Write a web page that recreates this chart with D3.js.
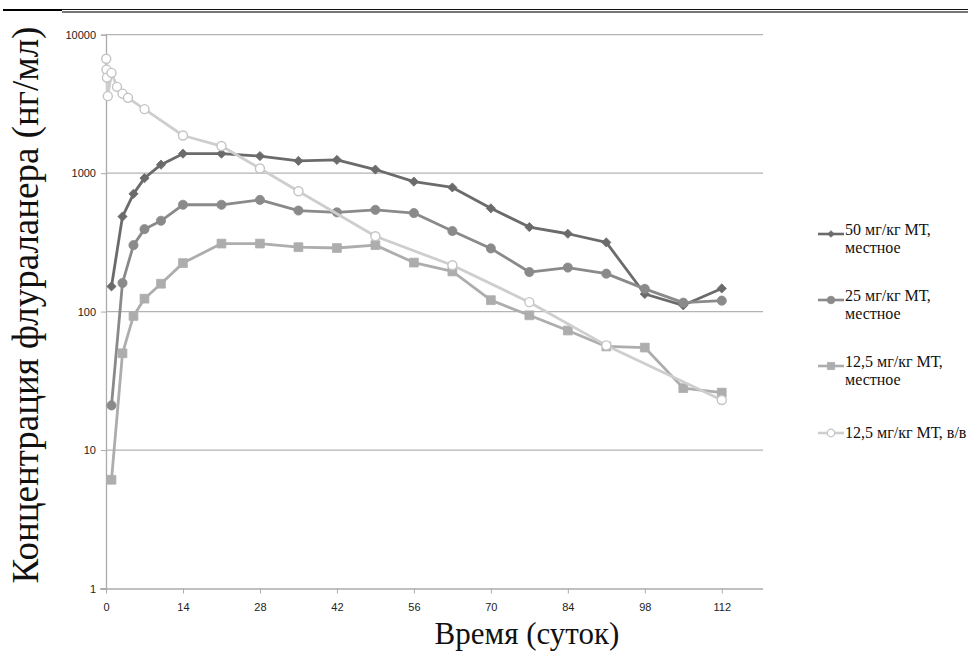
<!DOCTYPE html>
<html>
<head>
<meta charset="utf-8">
<script src="https://cdn.jsdelivr.net/npm/d3@7"></script>
<style>
	body { margin: 0; background: #fff; }
	svg { display: block; }
	.tick text { font-family: "Liberation Sans", Arial, sans-serif; font-size: 11px; fill: #222; }
	.title { font-family: "Liberation Serif", "Times New Roman", serif; fill: #111; }
	.legend text { font-family: "Liberation Serif", "Times New Roman", serif; font-size: 16px; fill: #111; }
</style>
</head>
<body>
<div id="chart"></div>
<script>
// days of sampling, topical groups
var days = [1, 3, 5, 7, 10, 14, 21, 28, 35, 42, 49, 56, 63, 70, 77, 84, 91, 98, 105, 112];

var conc50 = [152, 486, 709, 920, 1151, 1383, 1383, 1328, 1226, 1247, 1062, 868, 788, 557, 408, 365, 316, 134, 111, 147];
var conc25 = [21, 161, 302, 394, 453, 591, 591, 641, 537, 521, 543, 515, 382, 286, 193, 208, 188, 146, 116, 120];
var conc125 = [6.1, 50, 93, 124, 159, 224, 310, 310, 292, 288, 302, 226, 195, 121, 94, 73, 56, 55, 28, 26];

// intravenous group has its own sampling days
var ivDays = [0.04, 0.08, 0.17, 0.33, 1, 2, 3, 4, 7, 14, 21, 28, 35, 49, 63, 77, 91, 112];
var ivConc = [6700, 5600, 4900, 3600, 5300, 4200, 3750, 3500, 2900, 1870, 1570, 1080, 740, 350, 216, 117, 57, 23];

var seriesNames = [
	["50 мг/кг МТ,", "местное"],
	["25 мг/кг МТ,", "местное"],
	["12,5 мг/кг МТ,", "местное"],
	["12,5 мг/кг МТ, в/в"]
];

var xTicks = [0, 14, 28, 42, 56, 70, 84, 98, 112];
var yTicks = [1, 10, 100, 1000, 10000];

var xTitle = "Время (суток)";
var yTitle = "Концентрация флураланера (нг/мл)";

var W = 968, H = 652;

var svg = d3.select("#chart").append("svg").attr("width", W).attr("height", H);

// rules at the top of the page
svg.append("line").attr("x1", 3).attr("x2", 62).attr("y1", 10).attr("y2", 10)
   .style("stroke", "#000").style("stroke-width", 2.2);
svg.append("line").attr("x1", 62).attr("x2", W).attr("y1", 9.5).attr("y2", 9.5)
   .style("stroke", "#111").style("stroke-width", 1);
svg.append("line").attr("x1", 62).attr("x2", W).attr("y1", 12).attr("y2", 12)
   .style("stroke", "#777").style("stroke-width", 2);

var x = d3.scaleLinear().domain([0, 119.5]).range([106, 763]);
var y = d3.scaleLog().domain([1, 10000]).range([588.5, 34.7]);

// grid
svg.selectAll(".grid")
   .data(yTicks.slice(1))
   .enter().append("line")
   .attr("class", "grid")
   .attr("x1", x(0)).attr("x2", 763)
   .attr("y1", d => y(d)).attr("y2", d => y(d))
   .style("stroke", "#b3b3b3").style("stroke-width", 1.2);

var yaxis = svg.append("g")
			   .attr("transform", "translate(" + x(0) + ",0)")
			   .call(d3.axisLeft(y).tickValues(yTicks).tickFormat(d3.format("d")).tickSize(5).tickPadding(5));

var xaxis = svg.append("g")
			   .attr("transform", "translate(0," + y(1) + ")")
			   .call(d3.axisBottom(x).tickValues(xTicks).tickSize(5).tickPadding(10));

[yaxis, xaxis].forEach(function(a) {
	a.select(".domain").style("stroke", "#ababab").style("stroke-width", 1.3);
	a.selectAll(".tick line").style("stroke", "#ababab");
});
xaxis.select(".domain").attr("d", "M100,0.5H763");

// titles
svg.append("text")
   .attr("class", "title")
   .attr("x", 527).attr("y", 644)
   .attr("text-anchor", "middle")
   .style("font-size", "31px")
   .text(xTitle);

svg.append("text")
   .attr("class", "title")
   .attr("transform", "translate(38,305) rotate(-90)")
   .attr("text-anchor", "middle")
   .style("font-size", "37px")
   .text(yTitle);

// marker shapes
var diamond = "M0,-4.6L4.6,0L0,4.6L-4.6,0Z";
var square = "M-4.4,-4.4H4.4V4.4H-4.4Z";
var circle = d3.symbol().type(d3.symbolCircle).size(66)();
var openCircle = d3.symbol().type(d3.symbolCircle).size(64)();

var series = [
	{ xs: days, ys: conc50, color: "#6b6b6b", stroke: "#6b6b6b", fill: "#6b6b6b", shape: diamond, legendShape: "M0,-3.3L3.3,0L0,3.3L-3.3,0Z" },
	{ xs: days, ys: conc25, color: "#8a8a8a", stroke: "#8a8a8a", fill: "#8a8a8a", shape: circle, legendShape: d3.symbol().type(d3.symbolCircle).size(45)() },
	{ xs: days, ys: conc125, color: "#adadad", stroke: "#adadad", fill: "#adadad", shape: square, legendShape: "M-3.6,-3.6H3.6V3.6H-3.6Z" },
	{ xs: ivDays, ys: ivConc, color: "#cecece", stroke: "#c4c4c4", fill: "#fff", shape: openCircle, legendShape: d3.symbol().type(d3.symbolCircle).size(45)() }
];

var line = d3.line().x(d => x(d[0])).y(d => y(d[1]));

series.forEach(function(s) {
	var pts = s.xs.map((d, i) => [d, s.ys[i]]);

	svg.append("path")
	   .datum(pts)
	   .attr("d", line)
	   .style("fill", "none")
	   .style("stroke", s.color)
	   .style("stroke-width", 2.8)
	   .style("stroke-linejoin", "round");

	svg.append("g").selectAll("path")
	   .data(pts)
	   .enter().append("path")
	   .attr("d", s.shape)
	   .attr("transform", d => "translate(" + x(d[0]) + "," + y(d[1]) + ")")
	   .style("fill", s.fill)
	   .style("stroke", s.stroke)
	   .style("stroke-width", s.fill == "#fff" ? 1.4 : 0.8);
});

// legend
var legendY = [234, 300, 366, 433];

var legend = svg.append("g").attr("class", "legend");

series.forEach(function(s, i) {
	var ly = legendY[i];
	var g = legend.append("g");

	g.append("line")
	 .attr("x1", 818).attr("x2", 844).attr("y1", ly).attr("y2", ly)
	 .style("stroke", s.color).style("stroke-width", 2.6);

	g.append("path")
	 .attr("d", s.legendShape)
	 .attr("transform", "translate(831," + ly + ")")
	 .style("fill", s.fill)
	 .style("stroke", s.stroke)
	 .style("stroke-width", s.fill == "#fff" ? 1.2 : 0.8);

	var names = seriesNames[i];
	var base = names.length == 1 ? ly + 5 : ly + 1;

	names.forEach(function(n, j) {
		g.append("text")
		 .attr("x", 845)
		 .attr("y", base + j * 18)
		 .text(n);
	});
});
</script>
</body>
</html>
